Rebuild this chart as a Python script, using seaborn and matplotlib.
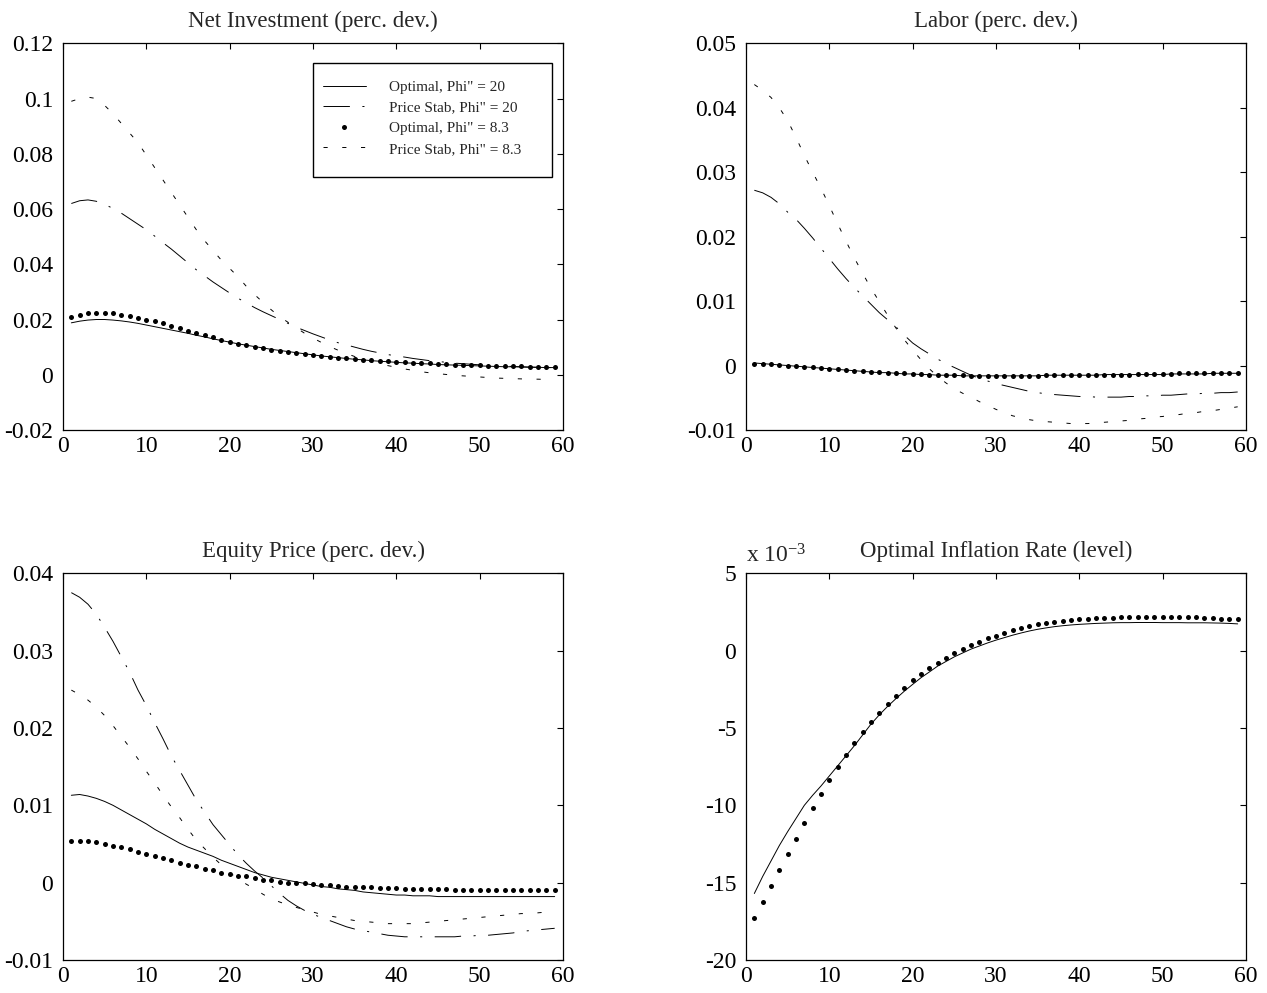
import numpy as np
import matplotlib
matplotlib.use("Agg")
import matplotlib.pyplot as plt
import seaborn as sns
from matplotlib.ticker import FuncFormatter
from matplotlib.patches import Rectangle

# periods
t = np.arange(1, 60)

labels = ['Optimal, Phi" = 20', 'Price Stab, Phi" = 20',
          'Optimal, Phi" = 8.3', 'Price Stab, Phi" = 8.3']

# -------------------------
# Net Investment (perc. dev.)
# -------------------------
inv_opt20 = [0.0188, 0.0194, 0.0198, 0.0200, 0.0200, 0.0198, 0.0195, 0.0191, 0.0186, 0.0180,
             0.0174, 0.0168, 0.0162, 0.0156, 0.0150, 0.0143, 0.0137, 0.0130, 0.0124, 0.0118,
             0.0112, 0.0107, 0.0102, 0.0097, 0.0092, 0.0088, 0.0084, 0.0080, 0.0076, 0.0072,
             0.0068, 0.0065, 0.0062, 0.0059, 0.0056, 0.0054, 0.0051, 0.0049, 0.0047, 0.0045,
             0.0043, 0.0042, 0.0040, 0.0039, 0.0037, 0.0036, 0.0035, 0.0034, 0.0033, 0.0032,
             0.0031, 0.0030, 0.0029, 0.0029, 0.0028, 0.0027, 0.0027, 0.0026, 0.0026]
inv_ps20 = [0.0620, 0.0630, 0.0633, 0.0628, 0.0617, 0.0602, 0.0585, 0.0565, 0.0545, 0.0525,
            0.0502, 0.0478, 0.0455, 0.0430, 0.0405, 0.0380, 0.0358, 0.0336, 0.0316, 0.0296,
            0.0277, 0.0260, 0.0243, 0.0228, 0.0214, 0.0200, 0.0186, 0.0172, 0.0160, 0.0148,
            0.0137, 0.0126, 0.0116, 0.0108, 0.0100, 0.0092, 0.0085, 0.0079, 0.0073, 0.0068,
            0.0064, 0.0059, 0.0055, 0.0051, 0.0048, 0.0045, 0.0042, 0.0040, 0.0038, 0.0036,
            0.0034, 0.0032, 0.0031, 0.0030, 0.0029, 0.0028, 0.0027, 0.0026, 0.0026]
inv_opt83 = [0.0210, 0.0218, 0.0222, 0.0224, 0.0224, 0.0222, 0.0218, 0.0213, 0.0207, 0.0200,
             0.0193, 0.0186, 0.0177, 0.0168, 0.0160, 0.0151, 0.0143, 0.0135, 0.0127, 0.0120,
             0.0113, 0.0107, 0.0101, 0.0096, 0.0091, 0.0086, 0.0082, 0.0078, 0.0074, 0.0071,
             0.0068, 0.0065, 0.0062, 0.0059, 0.0057, 0.0055, 0.0053, 0.0051, 0.0049, 0.0047,
             0.0045, 0.0044, 0.0042, 0.0041, 0.0040, 0.0038, 0.0037, 0.0036, 0.0035, 0.0034,
             0.0033, 0.0032, 0.0031, 0.0030, 0.0030, 0.0029, 0.0028, 0.0028, 0.0027]
inv_ps83 = [0.0990, 0.1000, 0.1005, 0.1000, 0.0975, 0.0945, 0.0910, 0.0875, 0.0840, 0.0795,
            0.0750, 0.0705, 0.0660, 0.0615, 0.0570, 0.0525, 0.0485, 0.0450, 0.0415, 0.0385,
            0.0355, 0.0320, 0.0290, 0.0262, 0.0235, 0.0210, 0.0190, 0.0170, 0.0150, 0.0133,
            0.0117, 0.0102, 0.0089, 0.0077, 0.0066, 0.0056, 0.0047, 0.0040, 0.0033, 0.0027,
            0.0021, 0.0016, 0.0011, 0.0007, 0.0004, 0.0001, -0.0002, -0.0004, -0.0006, -0.0008,
            -0.0010, -0.0012, -0.0013, -0.0014, -0.0015, -0.0016, -0.0016, -0.0017, -0.0017]

# -------------------------
# Labor (perc. dev.)
# -------------------------
lab_opt20 = [0.0004, 0.0003, 0.0002, 0.0001, 0.0000, -0.0001, -0.0002, -0.0003, -0.0004, -0.0005,
             -0.0006, -0.0007, -0.0008, -0.0009, -0.0010, -0.0011, -0.0011, -0.0012, -0.0013, -0.0013,
             -0.0014, -0.0014, -0.0015, -0.0015, -0.0015, -0.0016, -0.0016, -0.0016, -0.0016, -0.0016,
             -0.0016, -0.0016, -0.0016, -0.0016, -0.0016, -0.0015, -0.0015, -0.0015, -0.0015, -0.0015,
             -0.0015, -0.0015, -0.0014, -0.0014, -0.0014, -0.0014, -0.0014, -0.0014, -0.0014, -0.0014,
             -0.0013, -0.0013, -0.0013, -0.0013, -0.0013, -0.0012, -0.0012, -0.0012, -0.0012]
lab_ps20 = [0.0272, 0.0268, 0.0261, 0.0251, 0.0238, 0.0227, 0.0213, 0.0198, 0.0182, 0.0166,
            0.0150, 0.0135, 0.0121, 0.0108, 0.0095, 0.0082, 0.0071, 0.0060, 0.0047, 0.0035,
            0.0026, 0.0018, 0.0010, 0.0003, -0.0003, -0.0009, -0.0015, -0.0020, -0.0024, -0.0028,
            -0.0031, -0.0034, -0.0037, -0.0040, -0.0042, -0.0044, -0.0045, -0.0046, -0.0047, -0.0048,
            -0.0048, -0.0049, -0.0049, -0.0049, -0.0049, -0.0048, -0.0048, -0.0047, -0.0047, -0.0046,
            -0.0046, -0.0045, -0.0044, -0.0044, -0.0043, -0.0043, -0.0042, -0.0042, -0.0041]
lab_opt83 = [0.0003, 0.0003, 0.0002, 0.0001, 0.0000, -0.0001, -0.0002, -0.0003, -0.0004, -0.0005,
             -0.0006, -0.0007, -0.0008, -0.0009, -0.0010, -0.0010, -0.0011, -0.0012, -0.0012, -0.0013,
             -0.0013, -0.0014, -0.0014, -0.0015, -0.0015, -0.0015, -0.0016, -0.0016, -0.0016, -0.0016,
             -0.0016, -0.0016, -0.0016, -0.0016, -0.0016, -0.0015, -0.0015, -0.0015, -0.0015, -0.0015,
             -0.0015, -0.0014, -0.0014, -0.0014, -0.0014, -0.0014, -0.0013, -0.0013, -0.0013, -0.0013,
             -0.0013, -0.0012, -0.0012, -0.0012, -0.0012, -0.0012, -0.0011, -0.0011, -0.0011]
lab_ps83 = [0.0436, 0.0427, 0.0416, 0.0400, 0.0380, 0.0354, 0.0326, 0.0300, 0.0275, 0.0248,
            0.0220, 0.0193, 0.0167, 0.0143, 0.0120, 0.0099, 0.0078, 0.0058, 0.0040, 0.0024,
            0.0009, -0.0005, -0.0017, -0.0027, -0.0036, -0.0043, -0.0049, -0.0056, -0.0062, -0.0068,
            -0.0073, -0.0078, -0.0081, -0.0084, -0.0086, -0.0087, -0.0088, -0.0089, -0.0090, -0.0090,
            -0.0090, -0.0089, -0.0088, -0.0087, -0.0086, -0.0085, -0.0083, -0.0082, -0.0080, -0.0079,
            -0.0077, -0.0076, -0.0074, -0.0073, -0.0071, -0.0070, -0.0068, -0.0066, -0.0064]

# -------------------------
# Equity Price (perc. dev.)
# -------------------------
eq_opt20 = [0.0113, 0.0114, 0.0112, 0.0109, 0.0105, 0.0100, 0.0094, 0.0088, 0.0082, 0.0076,
            0.0069, 0.0063, 0.0057, 0.0051, 0.0046, 0.0042, 0.0038, 0.0034, 0.0029, 0.0025,
            0.0021, 0.0017, 0.0013, 0.0010, 0.0007, 0.0005, 0.0003, 0.0001, -0.0001, -0.0003,
            -0.0005, -0.0006, -0.0008, -0.0009, -0.0010, -0.0012, -0.0013, -0.0014, -0.0015, -0.0016,
            -0.0016, -0.0017, -0.0017, -0.0017, -0.0018, -0.0018, -0.0018, -0.0018, -0.0018, -0.0018,
            -0.0018, -0.0018, -0.0018, -0.0018, -0.0018, -0.0018, -0.0018, -0.0018, -0.0018]
eq_ps20 = [0.0375, 0.0369, 0.0360, 0.0347, 0.0330, 0.0312, 0.0292, 0.0272, 0.0249, 0.0229,
           0.0207, 0.0186, 0.0164, 0.0145, 0.0126, 0.0107, 0.0091, 0.0075, 0.0062, 0.0049,
           0.0036, 0.0025, 0.0015, 0.0006, -0.0004, -0.0014, -0.0023, -0.0030, -0.0036, -0.0041,
           -0.0045, -0.0049, -0.0053, -0.0057, -0.0060, -0.0062, -0.0064, -0.0066, -0.0068, -0.0069,
           -0.0070, -0.0070, -0.0070, -0.0070, -0.0070, -0.0070, -0.0070, -0.0069, -0.0069, -0.0068,
           -0.0068, -0.0067, -0.0066, -0.0065, -0.0063, -0.0062, -0.0061, -0.0060, -0.0059]
eq_opt83 = [0.0054, 0.0054, 0.0054, 0.0052, 0.0050, 0.0048, 0.0046, 0.0043, 0.0040, 0.0037,
            0.0035, 0.0032, 0.0029, 0.0026, 0.0023, 0.0021, 0.0018, 0.0016, 0.0013, 0.0011,
            0.0009, 0.0008, 0.0006, 0.0004, 0.0003, 0.0001, 0.0000, 0.0000, -0.0001, -0.0002,
            -0.0003, -0.0003, -0.0004, -0.0005, -0.0005, -0.0006, -0.0006, -0.0007, -0.0007, -0.0007,
            -0.0008, -0.0008, -0.0008, -0.0008, -0.0008, -0.0008, -0.0009, -0.0009, -0.0009, -0.0009,
            -0.0009, -0.0009, -0.0009, -0.0009, -0.0009, -0.0009, -0.0009, -0.0009, -0.0009]
eq_ps83 = [0.0249, 0.0243, 0.0236, 0.0227, 0.0216, 0.0203, 0.0189, 0.0175, 0.0160, 0.0144,
           0.0129, 0.0113, 0.0098, 0.0084, 0.0069, 0.0055, 0.0044, 0.0033, 0.0023, 0.0013,
           0.0005, -0.0002, -0.0008, -0.0015, -0.0021, -0.0025, -0.0029, -0.0032, -0.0035, -0.0038,
           -0.0041, -0.0043, -0.0045, -0.0047, -0.0049, -0.0050, -0.0051, -0.0052, -0.0053, -0.0053,
           -0.0053, -0.0053, -0.0052, -0.0051, -0.0050, -0.0049, -0.0048, -0.0047, -0.0046, -0.0045,
           -0.0044, -0.0043, -0.0042, -0.0041, -0.0040, -0.0040, -0.0039, -0.0038, -0.0037]

# -------------------------
# Optimal Inflation Rate (level), in units of 1e-3
# -------------------------
infl_opt20 = [-15.7, -14.6, -13.6, -12.6, -11.7, -10.85, -10.0, -9.35, -8.75, -8.1,
              -7.45, -6.8, -6.15, -5.45, -4.75, -4.15, -3.6, -3.1, -2.62, -2.18,
              -1.75, -1.38, -1.0, -0.7, -0.4, -0.15, 0.1, 0.3, 0.5, 0.68,
              0.84, 1.0, 1.14, 1.27, 1.38, 1.47, 1.55, 1.61, 1.66, 1.70,
              1.73, 1.76, 1.78, 1.80, 1.81, 1.81, 1.82, 1.82, 1.82, 1.81,
              1.81, 1.81, 1.80, 1.80, 1.80, 1.79, 1.78, 1.76, 1.73]
infl_opt83 = [-17.3, -16.26, -15.23, -14.20, -13.16, -12.15, -11.16, -10.19, -9.24, -8.36,
              -7.54, -6.72, -5.99, -5.26, -4.61, -4.01, -3.45, -2.91, -2.41, -1.91,
              -1.53, -1.14, -0.78, -0.47, -0.17, 0.13, 0.37, 0.58, 0.79, 0.97,
              1.16, 1.32, 1.45, 1.60, 1.72, 1.81, 1.88, 1.94, 1.99, 2.03,
              2.07, 2.09, 2.13, 2.14, 2.16, 2.18, 2.20, 2.20, 2.20, 2.20,
              2.20, 2.18, 2.16, 2.15, 2.13, 2.09, 2.07, 2.05, 2.05]

# -------------------------
# STYLE
# -------------------------
sns.set_style("white")
plt.rcParams['font.family'] = ['Liberation Serif', 'DejaVu Serif']
plt.rcParams['mathtext.fontset'] = 'custom'
plt.rcParams['mathtext.rm'] = 'Liberation Serif'
plt.rcParams['mathtext.it'] = 'Liberation Serif'
plt.rcParams['lines.scale_dashes'] = False

ls_opt20 = '-'
ls_ps20 = (0, (19, 9, 1.5, 9))
ls_ps83 = (0, (3, 10.5))

fmt = FuncFormatter(lambda v, p: '%g' % round(v, 6))


def style_axes(ax, title, yticks):
    ax.set_xlim(0, 60)
    ax.set_xticks(range(0, 61, 10))
    ax.set_ylim(yticks[0], yticks[-1])
    ax.set_yticks(yticks)
    ax.yaxis.set_major_formatter(fmt)
    ax.tick_params(direction='in', top=True, right=True, length=4, width=0.8,
                   labelsize=17, colors='black')
    ax.tick_params(axis='y', pad=7)
    ax.tick_params(axis='x', pad=4)
    for s in ax.spines.values():
        s.set_color('black')
        s.set_linewidth(0.9)
    ax.set_xlabel('')
    ax.set_ylabel('')
    ax.set_title(title, fontsize=16.5, pad=12)


def draw_panel(ax, opt20, ps20, opt83, ps83):
    sns.lineplot(x=t, y=opt20, ax=ax, color='black', lw=0.7, linestyle=ls_opt20,
                 label=labels[0], legend=False)
    if ps20 is not None:
        sns.lineplot(x=t, y=ps20, ax=ax, color='black', lw=0.7, linestyle=ls_ps20,
                     label=labels[1], legend=False)
    sns.lineplot(x=t, y=opt83, ax=ax, color='black', linestyle='', marker='o',
                 markersize=3.6, markeredgewidth=0, label=labels[2], legend=False)
    if ps83 is not None:
        sns.lineplot(x=t, y=ps83, ax=ax, color='black', lw=0.7, linestyle=ls_ps83,
                     label=labels[3], legend=False)


fig = plt.figure(figsize=(12.67, 9.93), dpi=100)
w, h = 500 / 1267, 386.7 / 993
ax1 = fig.add_axes([63 / 1267, 1 - 430 / 993, w, h])
ax2 = fig.add_axes([746 / 1267, 1 - 430 / 993, w, h])
ax3 = fig.add_axes([63 / 1267, 1 - 960 / 993, w, h])
ax4 = fig.add_axes([746 / 1267, 1 - 960 / 993, w, h])

draw_panel(ax1, inv_opt20, inv_ps20, inv_opt83, inv_ps83)
style_axes(ax1, 'Net Investment (perc. dev.)', np.arange(-0.02, 0.1201, 0.02))

draw_panel(ax2, lab_opt20, lab_ps20, lab_opt83, lab_ps83)
style_axes(ax2, 'Labor (perc. dev.)', np.arange(-0.01, 0.0501, 0.01))

draw_panel(ax3, eq_opt20, eq_ps20, eq_opt83, eq_ps83)
style_axes(ax3, 'Equity Price (perc. dev.)', np.arange(-0.01, 0.0401, 0.01))

draw_panel(ax4, infl_opt20, None, infl_opt83, None)
style_axes(ax4, 'Optimal Inflation Rate (level)', np.arange(-20, 5.1, 5))
ax4.text(0.0, 1.029, r'x 10$^{-3}$', transform=ax4.transAxes, ha='left',
         va='baseline', fontsize=17)

# legend: entries without frame, box drawn as in the original (wide right margin)
leg = ax1.legend(loc='upper left', bbox_to_anchor=(0.52, 0.904), fontsize=11,
                 frameon=False, handlelength=2.8, handletextpad=1.5,
                 labelspacing=0.45, borderpad=0, borderaxespad=0, numpoints=1)
ax1.add_patch(Rectangle((0.5, 0.654), 0.478, 0.294, transform=ax1.transAxes,
                        fill=False, edgecolor='black', lw=1.0, zorder=5))

plt.savefig("out.png", dpi=100)
